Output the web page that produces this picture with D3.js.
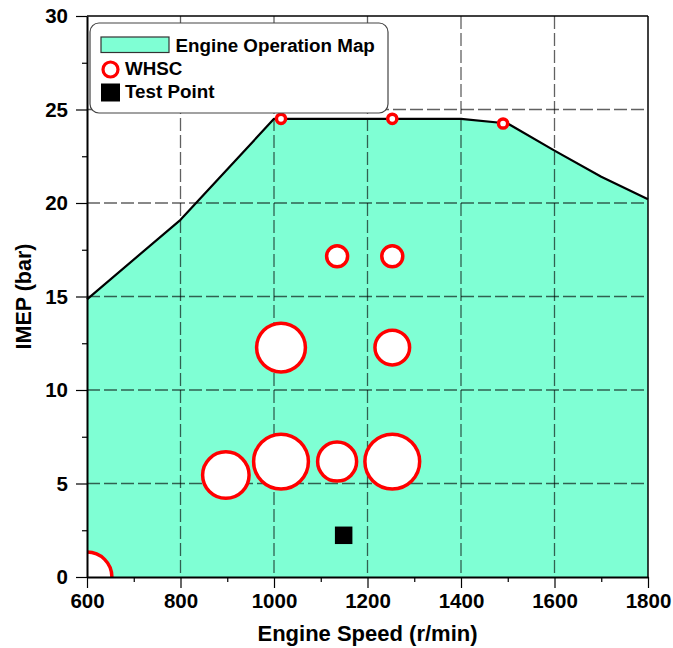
<!DOCTYPE html>
<html>
<head>
<meta charset="utf-8">
<script src="https://cdn.jsdelivr.net/npm/d3@7"></script>
<style>
  html, body { margin: 0; padding: 0; background: #fff; }
  svg { display: block; font-family: "Liberation Sans", Arial, sans-serif; font-weight: bold; }
</style>
</head>
<body>
<svg id="chart" width="673" height="648"></svg>
<script>
// ---------- data ----------
const mapSpeed = [600, 800, 1000, 1400, 1500, 1600, 1700, 1800];
const mapImep  = [14.85, 19.1, 24.5, 24.5, 24.25, 22.8, 21.4, 20.2];

const whscSpeed  = [1015, 1253, 1490, 1135, 1253, 1015, 1253, 897, 1015, 1135, 1253, 600];
const whscImep   = [24.5, 24.5, 24.25, 17.15, 17.15, 12.27, 12.27, 5.45, 6.17, 6.17, 6.17, 0];
const whscWeight = [2.1, 2.1, 2.1, 11, 11, 59.5, 30, 54, 75, 38, 75, 62];

const testSpeed = [1149];
const testImep  = [2.23];

const xTicks = [600, 800, 1000, 1200, 1400, 1600, 1800];
const xMinor = [700, 900, 1100, 1300, 1500, 1700];
const yTicks = [0, 5, 10, 15, 20, 25, 30];
const yMinor = [2.5, 7.5, 12.5, 17.5, 22.5, 27.5];

const legendLabels = ["Engine Operation Map", "WHSC", "Test Point"];
const xTitle = "Engine Speed (r/min)";
const yTitle = "IMEP (bar)";

// ---------- layout ----------
const svg = d3.select("#chart");
const L = 87, R = 648, T = 16, B = 577;
const x = d3.scaleLinear().domain([600, 1800]).range([L, R]);
const y = d3.scaleLinear().domain([0, 30]).range([B, T]);
const r = d3.scaleSqrt().domain([0, 75]).range([0, 27.4]);

const FILL = "#7FFFD4";
const RED = "#FF0000";

svg.append("defs").append("clipPath").attr("id", "plotClip")
  .append("rect").attr("x", L).attr("y", T).attr("width", R - L).attr("height", B - T);

const mapData = mapSpeed.map((s, i) => ({ s, v: mapImep[i] }));

// filled operation map
svg.append("path")
  .datum(mapData)
  .attr("fill", FILL)
  .attr("d", d3.area().x(d => x(d.s)).y0(y(0)).y1(d => y(d.v)));

// grid lines
const grid = svg.append("g").attr("stroke", "#000").attr("stroke-opacity", 0.62)
  .attr("stroke-width", 1.3).attr("stroke-dasharray", "13,4");
grid.selectAll(".gx").data(xTicks.filter(t => t > 600 && t < 1800)).join("line")
  .attr("x1", d => x(d)).attr("x2", d => x(d)).attr("y1", T).attr("y2", B);
grid.selectAll(".gy").data(yTicks.filter(t => t > 0 && t < 30)).join("line")
  .attr("y1", d => y(d)).attr("y2", d => y(d)).attr("x1", L).attr("x2", R);

// boundary line
svg.append("path")
  .datum(mapData)
  .attr("fill", "none").attr("stroke", "#000").attr("stroke-width", 2.2)
  .attr("stroke-linejoin", "round")
  .attr("d", d3.line().x(d => x(d.s)).y(d => y(d.v)));

// WHSC bubbles
const whsc = whscSpeed.map((s, i) => ({ s, v: whscImep[i], w: whscWeight[i] }));
svg.append("g").attr("clip-path", "url(#plotClip)")
  .selectAll("circle").data(whsc).join("circle")
  .attr("cx", d => x(d.s)).attr("cy", d => y(d.v)).attr("r", d => r(d.w))
  .attr("fill", "#fff").attr("stroke", RED).attr("stroke-width", 3.5);

// test point
const sq = 17.5;
svg.append("g").selectAll("rect").data(testSpeed.map((s, i) => ({ s, v: testImep[i] }))).join("rect")
  .attr("x", d => x(d.s) - sq / 2).attr("y", d => y(d.v) - sq / 2)
  .attr("width", sq).attr("height", sq).attr("fill", "#000");

// frame top/right
svg.append("line").attr("x1", L).attr("x2", R).attr("y1", T).attr("y2", T).attr("stroke", "#000").attr("stroke-width", 1.5);
svg.append("line").attr("x1", R).attr("x2", R).attr("y1", T).attr("y2", B).attr("stroke", "#000").attr("stroke-width", 1.5);

// axes
svg.append("g").attr("transform", `translate(0,${B})`)
  .call(d3.axisBottom(x).tickValues(xTicks).tickSize(11).tickSizeOuter(0).tickPadding(5).tickFormat(d3.format("d")));
svg.append("g").attr("transform", `translate(0,${B})`)
  .call(d3.axisBottom(x).tickValues(xMinor).tickSize(5).tickSizeOuter(0).tickFormat(""))
  .select(".domain").remove();
svg.append("g").attr("transform", `translate(${L},0)`)
  .call(d3.axisLeft(y).tickValues(yTicks).tickSize(11).tickSizeOuter(0).tickPadding(8).tickFormat(d3.format("d")));
svg.append("g").attr("transform", `translate(${L},0)`)
  .call(d3.axisLeft(y).tickValues(yMinor).tickSize(5).tickSizeOuter(0).tickFormat(""))
  .select(".domain").remove();

svg.selectAll(".tick line").attr("stroke", "#000").attr("stroke-width", 1.2);
svg.selectAll(".domain").attr("stroke", "#000").attr("stroke-width", 2);
svg.selectAll(".tick text").attr("font-family", "'Liberation Sans', Arial, sans-serif")
  .attr("font-weight", "bold").attr("font-size", 20.5).attr("fill", "#000");

// axis titles
svg.append("text").attr("x", (L + R) / 2).attr("y", 641).attr("text-anchor", "middle")
  .attr("font-size", 22).text(xTitle);
svg.append("text").attr("transform", `translate(31,${(T + B) / 2}) rotate(-90)`)
  .attr("text-anchor", "middle").attr("font-size", 21.5).text(yTitle);

// legend
const lg = svg.append("g");
lg.append("rect").attr("x", 90).attr("y", 23).attr("width", 298).attr("height", 90)
  .attr("rx", 9).attr("fill", "#fff").attr("stroke", "#444").attr("stroke-width", 1.2);
lg.append("rect").attr("x", 101).attr("y", 37).attr("width", 68).attr("height", 15.5)
  .attr("fill", FILL).attr("stroke", "#333").attr("stroke-width", 1.2);
lg.append("circle").attr("cx", 110.5).attr("cy", 69.5).attr("r", 7.5)
  .attr("fill", "#fff").attr("stroke", RED).attr("stroke-width", 3.2);
lg.append("rect").attr("x", 101).attr("y", 83.5).attr("width", 19).attr("height", 18).attr("fill", "#000");
lg.selectAll("text.leg").data(legendLabels).join("text")
  .attr("x", (d, i) => i === 0 ? 175.5 : 125)
  .attr("y", (d, i) => [51.5, 75, 97.5][i])
  .attr("font-size", 18.8).text(d => d);
</script>
</body>
</html>
